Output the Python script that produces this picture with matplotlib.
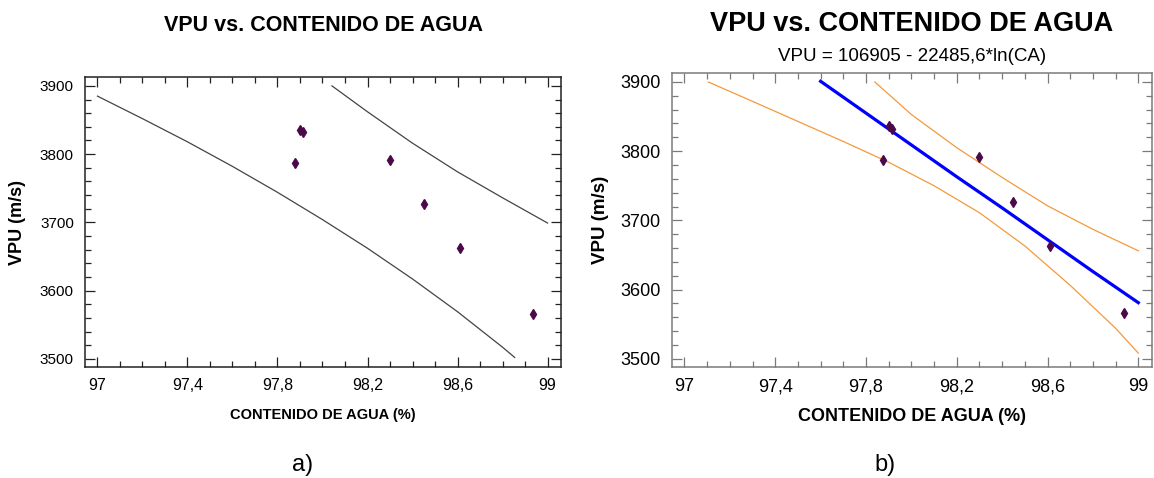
import matplotlib
matplotlib.use("Agg")
import matplotlib.pyplot as plt
from matplotlib import font_manager as fm
from matplotlib.ticker import MultipleLocator, FuncFormatter

# measured data (both panels show the same samples)
agua = [97.877, 97.902, 97.914, 98.298, 98.450, 98.609, 98.935]
vpu = [3787, 3836, 3832, 3792, 3727, 3663, 3566]

# panel a: prediction limits (black)
a_low_x = [97.0, 97.2, 97.4, 97.6, 97.8, 98.0, 98.2, 98.4, 98.6, 98.8, 98.854]
a_low_y = [3885, 3852, 3818, 3782, 3744, 3704, 3662, 3617, 3569, 3517, 3502]
a_up_x = [98.042, 98.2, 98.4, 98.6, 98.8, 99.0]
a_up_y = [3900, 3862, 3816, 3774, 3736, 3699]

# panel b: fitted model and limits
fit_x = [97.6, 97.8, 98.0, 98.2, 98.4, 98.6, 98.8, 99.0]
fit_y = [3901, 3855, 3809, 3763, 3718, 3672, 3626, 3581]
b_up_x = [97.839, 98.0, 98.2, 98.4, 98.6, 98.8, 99.0]
b_up_y = [3900, 3853, 3805, 3762, 3721, 3687, 3656]
b_low_x = [97.105, 97.3, 97.5, 97.7, 97.9, 98.1, 98.3, 98.5, 98.7, 98.9, 99.0]
b_low_y = [3900, 3872, 3843, 3814, 3784, 3750, 3711, 3663, 3606, 3544, 3508]

x_ticks = [97.0, 97.4, 97.8, 98.2, 98.6, 99.0]
y_ticks = [3500, 3600, 3700, 3800, 3900]

title = "VPU vs. CONTENIDO DE AGUA"
equation = "VPU = 106905 - 22485,6*ln(CA)"
xlab = "CONTENIDO DE AGUA (%)"
ylab = "VPU (m/s)"

names = {f.name for f in fm.fontManager.ttflist}
NARROW = "Liberation Sans Narrow" if "Liberation Sans Narrow" in names else "Liberation Sans"
plt.rcParams["font.family"] = ["Liberation Sans", "DejaVu Sans"]


def comma(v, _):
    s = f"{v:.1f}".rstrip("0").rstrip(".")
    return s.replace(".", ",")


def style_axes(ax, spine_color, tick_font, xsize, ysize):
    ax.set_xlim(96.945, 99.06)
    ax.set_ylim(3488, 3913)
    ax.set_xticks(x_ticks)
    ax.set_yticks(y_ticks)
    ax.xaxis.set_major_formatter(FuncFormatter(comma))
    ax.xaxis.set_minor_locator(MultipleLocator(0.1))
    ax.yaxis.set_minor_locator(MultipleLocator(20))
    ax.tick_params(which="both", direction="in", top=True, right=True,
                   color=spine_color, width=0.9)
    ax.tick_params(which="major", length=7, pad=8)
    ax.tick_params(which="minor", length=4)
    for s in ax.spines.values():
        s.set_color(spine_color)
        s.set_linewidth(1.1)
    for lab in ax.get_xticklabels():
        lab.set_fontfamily(tick_font)
        lab.set_fontsize(xsize)
    for lab in ax.get_yticklabels():
        lab.set_fontfamily(tick_font)
        lab.set_fontsize(ysize)


fig = plt.figure(figsize=(11.54, 4.78), dpi=100)

# ---- panel a
ax1 = fig.add_axes([0.0737, 0.2322, 0.4125, 0.6067])
ax1.plot(a_low_x, a_low_y, color="#444444", lw=0.9)
ax1.plot(a_up_x, a_up_y, color="#444444", lw=0.9)
ax1.plot(agua, vpu, "d", color="#4a0a4a", ms=5.5, mec="#4a0a4a")
style_axes(ax1, "#222222", NARROW, 11.5, 11)
ax1.set_title(title, fontfamily=NARROW, fontweight="bold", fontsize=15.5, pad=33)
ax1.set_xlabel(xlab, fontfamily=NARROW, fontweight="bold", fontsize=10.5, labelpad=11)
ax1.set_ylabel(ylab, fontweight="bold", fontsize=13, labelpad=10)

# ---- panel b
ax2 = fig.add_axes([0.5823, 0.2322, 0.4159, 0.6151])
ax2.plot(b_low_x, b_low_y, color="#F39A3C", lw=0.9)
ax2.plot(b_up_x, b_up_y, color="#F39A3C", lw=0.9)
ax2.plot(fit_x, fit_y, color="#0000FF", lw=2.3)
ax2.plot(agua, vpu, "d", color="#4a0a4a", ms=5, mec="#4a0a4a")
style_axes(ax2, "#7a7a7a", "Liberation Sans", 13, 13)
ax2.text(0.5, 1.055, equation, transform=ax2.transAxes, ha="center", va="center",
         fontsize=13.5)
ax2.set_title(title, fontweight="bold", fontsize=19.5, pad=30)
ax2.set_xlabel(xlab, fontweight="bold", fontsize=13, labelpad=9)
ax2.set_ylabel(ylab, fontweight="bold", fontsize=13.5, labelpad=8)

fig.text(303 / 1154, 1 - 465 / 478, "a)", ha="center", va="center", fontsize=17)
fig.text(885 / 1154, 1 - 465 / 478, "b)", ha="center", va="center", fontsize=17)

fig.savefig("out.png", dpi=100)
plt.close(fig)
